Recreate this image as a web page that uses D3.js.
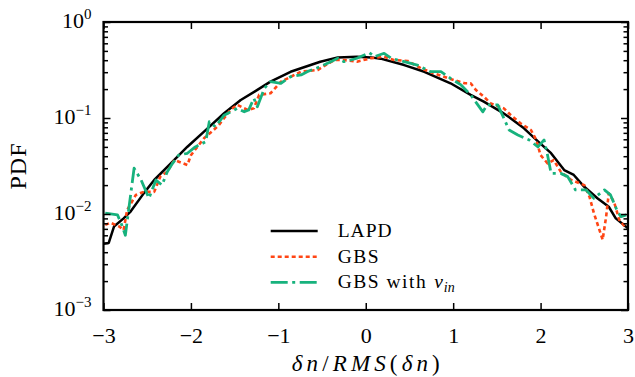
<!DOCTYPE html>
<html>
<head>
<meta charset="utf-8">
<script src="https://cdn.jsdelivr.net/npm/d3@7"></script>
<style>
  body { margin: 0; background: #fff; }
  svg text { font-family: 'Liberation Serif', 'DejaVu Serif', serif; fill: #000; }
</style>
</head>
<body>
<div id="chart"></div>
<script>
// values
const lapdX = [-3.0, -2.94, -2.88, -2.77, -2.69, -2.54, -2.42, -2.23, -2.04, -1.85, -1.62, -1.43, -1.24, -1.09,
  -0.86, -0.52, -0.32, -0.10, 0.06, 0.17, 0.44, 0.67, 0.97, 1.20, 1.35, 1.55, 1.66, 1.81, 1.97, 2.12, 2.27,
  2.38, 2.50, 2.65, 2.78, 2.86, 3.0];
const lapdY = [0.0049, 0.0050, 0.0074, 0.0090, 0.0106, 0.0164, 0.0226, 0.0337, 0.0502, 0.072, 0.112, 0.154,
  0.196, 0.239, 0.303, 0.385, 0.428, 0.435, 0.428, 0.415, 0.356, 0.303, 0.230, 0.174, 0.148, 0.116, 0.099,
  0.078, 0.057, 0.043, 0.0287, 0.0255, 0.0192, 0.0146, 0.0119, 0.0090, 0.0071];

const gbsX = [-2.98, -2.92, -2.82, -2.77, -2.73, -2.63, -2.54, -2.42, -2.35, -2.27, -2.19, -2.04, -2.0, -1.85,
  -1.74, -1.68, -1.55, -1.47, -1.35, -1.28, -1.22, -1.09, -0.97, -0.74, -0.55, -0.46, -0.36, -0.25, -0.10,
  0.06, 0.21, 0.32, 0.48, 0.63, 0.78, 0.97, 1.13, 1.20, 1.26, 1.35, 1.43, 1.58, 1.66, 1.77, 1.89, 1.95,
  2.0, 2.08, 2.15, 2.23, 2.35, 2.50, 2.56, 2.61, 2.71, 2.75, 2.78, 2.84, 2.90, 2.98];
const gbsY = [0.0077, 0.0081, 0.0074, 0.0068, 0.011, 0.0158, 0.017, 0.017, 0.0245, 0.0276, 0.0365, 0.0324,
  0.041, 0.0615, 0.075, 0.0845, 0.121, 0.137, 0.121, 0.126, 0.174, 0.181, 0.239, 0.304, 0.316, 0.356, 0.402,
  0.402, 0.386, 0.419, 0.435, 0.402, 0.393, 0.33, 0.292, 0.255, 0.23, 0.23, 0.196, 0.167, 0.142, 0.126,
  0.107, 0.088, 0.075, 0.059, 0.041, 0.0337, 0.0365, 0.0276, 0.0226, 0.020, 0.0151, 0.0102, 0.0054, 0.0094,
  0.0164, 0.0134, 0.0087, 0.0071];

const nuX = [-2.98, -2.84, -2.80, -2.75, -2.65, -2.57, -2.48, -2.40, -2.33, -2.27, -2.21, -2.14, -2.04, -1.95,
  -1.83, -1.79, -1.72, -1.62, -1.47, -1.39, -1.34, -1.28, -1.24, -1.16, -1.09, -0.97, -0.86, -0.74, -0.67,
  -0.52, -0.40, -0.32, -0.25, -0.17, -0.10, 0.04, 0.10, 0.21, 0.29, 0.44, 0.59, 0.74, 0.86, 0.97, 1.09,
  1.20, 1.34, 1.39, 1.51, 1.58, 1.64, 1.74, 1.87, 1.97, 2.04, 2.08, 2.12, 2.23, 2.31, 2.40, 2.52, 2.61,
  2.73, 2.80, 2.88, 2.92, 2.98];
const nuY = [0.0102, 0.0098, 0.0081, 0.0060, 0.030, 0.0226, 0.0146, 0.0226, 0.020, 0.0276, 0.0337, 0.041,
  0.0429, 0.050, 0.0566, 0.0915, 0.081, 0.107, 0.126, 0.116, 0.121, 0.160, 0.131, 0.204, 0.239, 0.23,
  0.269, 0.281, 0.304, 0.342, 0.386, 0.419, 0.386, 0.402, 0.419, 0.479, 0.435, 0.472, 0.419, 0.386, 0.356,
  0.304, 0.304, 0.259, 0.221, 0.174, 0.116, 0.137, 0.137, 0.0993, 0.075, 0.0665, 0.059, 0.050, 0.059,
  0.041, 0.0265, 0.0265, 0.0245, 0.0178, 0.0178, 0.0146, 0.0178, 0.0158, 0.0106, 0.0094, 0.0098];

const xTicks = [-3, -2, -1, 0, 1, 2, 3];
const yTicks = [1e-3, 1e-2, 1e-1, 1];
const yExps = ['\u22123', '\u22122', '\u22121', '0'];

const series = [
  { name: 'LAPD', xs: lapdX, ys: lapdY, color: '#000000', width: 2.5, dash: null, len: 54 },
  { name: 'GBS', xs: gbsX, ys: gbsY, color: '#ff4514', width: 2.6, dash: '4,3', len: 41 },
  { name: 'GBS with', sub: true, xs: nuX, ys: nuY, color: '#17b27d', width: 2.8, dash: '17,4.5,3,4.5', len: 88 }
];

const W = 635, H = 377;
const margin = { top: 22, right: 7, bottom: 67, left: 103.5 };
const width = W - margin.left - margin.right;
const height = H - margin.top - margin.bottom;

const svg = d3.select('#chart').append('svg')
  .attr('width', W)
  .attr('height', H);

const g = svg.append('g')
  .attr('transform', 'translate(' + margin.left + ',' + margin.top + ')');

const x = d3.scaleLinear().domain([-3, 3]).range([0, width]);
const y = d3.scaleLog().domain([1e-3, 1]).range([height, 0]);

const line = d3.line()
  .x(d => x(d[0]))
  .y(d => y(d[1]));

const plot = g.append('g');
series.forEach(s => {
  plot.append('path')
    .datum(s.xs.map((v, i) => [v, s.ys[i]]))
    .attr('d', line)
    .attr('fill', 'none')
    .attr('stroke', s.color)
    .attr('stroke-width', s.width)
    .attr('stroke-dasharray', s.dash)
    .attr('stroke-linejoin', 'round');
});

// minor ticks for log axis
const minor = [];
[1e-3, 1e-2, 1e-1].forEach(d => { for (let k = 2; k <= 9; k++) minor.push(d * k); });

function tickStyle(sel) {
  sel.select('.domain').remove();
  sel.selectAll('line').attr('stroke', '#000').attr('stroke-width', 1.5);
}

// bottom
g.append('g')
  .attr('transform', 'translate(0,' + height + ')')
  .call(d3.axisBottom(x).tickValues(xTicks).tickSizeInner(-7).tickSizeOuter(0)
    .tickPadding(17).tickFormat(d => d < 0 ? '\u2212' + Math.abs(d) : d))
  .call(tickStyle)
  .selectAll('text')
  .attr('font-size', 22)
  .attr('font-family', "'Liberation Serif', serif");

// top
g.append('g')
  .call(d3.axisTop(x).tickValues(xTicks).tickSizeInner(-7).tickSizeOuter(0).tickFormat(''))
  .call(tickStyle);

// left major + minor
g.append('g')
  .call(d3.axisLeft(y).tickValues(yTicks).tickSizeInner(-7).tickSizeOuter(0).tickFormat(''))
  .call(tickStyle);
g.append('g')
  .call(d3.axisLeft(y).tickValues(minor).tickSizeInner(-4.5).tickSizeOuter(0).tickFormat(''))
  .call(tickStyle);

// right
g.append('g')
  .attr('transform', 'translate(' + width + ',0)')
  .call(d3.axisRight(y).tickValues(yTicks).tickSizeInner(-7).tickSizeOuter(0).tickFormat(''))
  .call(tickStyle);
g.append('g')
  .attr('transform', 'translate(' + width + ',0)')
  .call(d3.axisRight(y).tickValues(minor).tickSizeInner(-4.5).tickSizeOuter(0).tickFormat(''))
  .call(tickStyle);

// y tick labels with superscripts
yTicks.forEach((t, i) => {
  const tx = g.append('text')
    .attr('x', -12)
    .attr('y', y(t) + 6)
    .attr('text-anchor', 'end')
    .attr('font-size', 22);
  tx.append('tspan').text('10');
  tx.append('tspan').attr('dy', -9).attr('font-size', 15).text(yExps[i]);
});

// frame
g.append('rect')
  .attr('width', width)
  .attr('height', height)
  .attr('fill', 'none')
  .attr('stroke', '#000')
  .attr('stroke-width', 2.2);

// axis labels
const xl = svg.append('text')
  .attr('x', margin.left + width / 2 - 74)
  .attr('y', H - 6)
  .attr('font-size', 23)
  .attr('font-style', 'italic')
  .attr('textLength', 148)
  .attr('lengthAdjust', 'spacing');
xl.append('tspan').text('\u03b4n');
xl.append('tspan').attr('font-style', 'normal').text('/');
xl.append('tspan').text('RMS');
xl.append('tspan').attr('font-style', 'normal').text('(');
xl.append('tspan').text('\u03b4n');
xl.append('tspan').attr('font-style', 'normal').text(')');

svg.append('g')
  .attr('transform', 'translate(26,' + (margin.top + height / 2) + ')')
  .append('text')
  .attr('transform', 'rotate(-90)')
  .attr('text-anchor', 'middle')
  .attr('font-size', 24)
  .attr('letter-spacing', 1)
  .text('PDF');

// legend
const legend = g.append('g').attr('transform', 'translate(' + (270.7 - margin.left) + ',' + (231 - margin.top) + ')');
series.forEach((s, i) => {
  const row = legend.append('g').attr('transform', 'translate(0,' + (i * 25.7) + ')');
  row.append('line')
    .attr('x1', 0).attr('x2', 47)
    .attr('stroke', s.color)
    .attr('stroke-width', s.width)
    .attr('stroke-dasharray', s.dash);
  const t = row.append('text')
    .attr('x', 67)
    .attr('y', 6)
    .attr('font-size', 19.5);
  t.append('tspan')
    .attr('textLength', s.len)
    .attr('lengthAdjust', 'spacing')
    .text(s.name);
  if (s.sub) {
    t.append('tspan').attr('dx', 7).attr('font-style', 'italic').text('\u03bd');
    t.append('tspan').attr('font-style', 'italic').attr('font-size', 14).attr('dy', 4).attr('dx', 1).text('in');
  }
});
</script>
</body>
</html>
